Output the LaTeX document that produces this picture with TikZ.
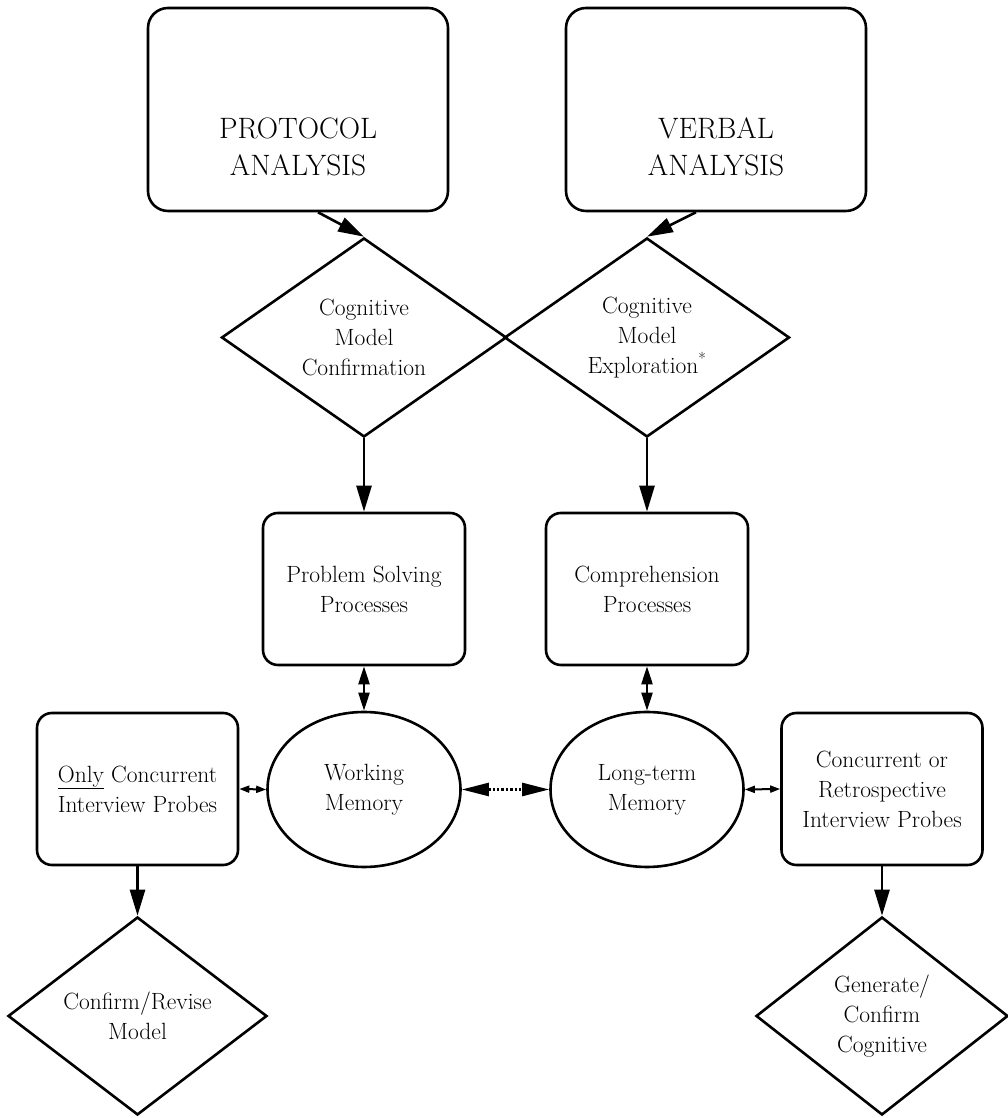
\documentclass[tikz,border=0pt]{standalone}
\usepackage{fontspec}
\usetikzlibrary{arrows.meta,shapes.geometric}
\newcommand{\flowfont}{\fontsize{23.5}{30}\selectfont}
\tikzset{
  bigbox/.style={draw, line width=2.6pt, rounded corners=20pt,
                 minimum width=300pt, minimum height=203pt},
  bigtxt/.style={font=\fontsize{29.5}{37}\selectfont, align=center},
  procbox/.style={draw, line width=2.6pt, rounded corners=15pt, inner sep=0pt,
                  minimum width=202pt, minimum height=152pt, font=\flowfont, align=center},
  dec/.style={diamond, draw, line width=2.6pt, aspect=1.43, inner sep=0pt,
              minimum width=285pt, minimum height=199pt, font=\flowfont, align=center},
  mem/.style={ellipse, draw, line width=2.6pt, inner sep=0pt,
              minimum width=193pt, minimum height=155pt, font=\flowfont, align=center},
  arr/.style={-{Triangle[length=26pt,width=15pt]}, line width=2.6pt},
  dblarr/.style={{Triangle[length=18pt,width=11pt]}-{Triangle[length=18pt,width=11pt]}, line width=2.2pt},
  sdblarr/.style={{Triangle[length=10pt,width=7pt]}-{Triangle[length=10pt,width=7pt]}, line width=2pt},
  dotarr/.style={{Triangle[length=27pt,width=13pt]}-{Triangle[length=27pt,width=13pt]}, line width=2.4pt, dotted},
}
\begin{document}
\begin{tikzpicture}[x=1pt,y=1pt]
  \useasboundingbox (0,0) rectangle (1008,1118);
  % analysis boxes
  \node[bigbox] (protocol) at (298,1008.5) {};
  \node[bigtxt] (protocoltxt) at ([yshift=-37pt]protocol.center) {PROTOCOL\\ANALYSIS};
  \node[bigbox] (verbal) at (716,1008.5) {};
  \node[bigtxt] (verbaltxt) at ([yshift=-37pt]verbal.center) {VERBAL\\ANALYSIS};
  % model diamonds
  \node[dec] (confirm) at (364,780.5) {Cognitive\\Model\\Confirmation};
  \node[dec] (explore) at (647,780.5) {Cognitive\\Model\\Exploration\textsuperscript{*}};
  % processes
  \node[procbox] (psolve) at (364,529) {Problem Solving\\Processes};
  \node[procbox] (compr) at (647,529) {Comprehension\\Processes};
  % memory
  \node[mem] (wm) at (364,328.5) {Working\\Memory};
  \node[mem] (ltm) at (647,328.5) {Long-term\\Memory};
  \node[procbox, minimum width=201pt] (only) at (137.5,329) {\underline{Only} Concurrent\\Interview Probes};
  \node[procbox, minimum width=201pt] (retro) at (882,329) {Concurrent or\\Retrospective\\Interview Probes};
  % outcome diamonds
  \node[dec, aspect=1.3, minimum width=259pt, minimum height=198pt] (revise) at (137.5,102) {Confirm/Revise\\Model};
  \node[dec, aspect=1.3, minimum width=252pt, minimum height=198pt] (generate) at (882,102) {Generate/\\Confirm\\Cognitive};

  \draw[arr] ([xshift=20pt]protocol.south) -- (confirm.north);
  \draw[arr] ([xshift=-20pt]verbal.south) -- (explore.north);
  \draw[arr] (confirm.south) -- (psolve.north);
  \draw[arr] (explore.south) -- (compr.north);
  \draw[dblarr] (psolve.south) -- (wm.north);
  \draw[dblarr] (compr.south) -- (ltm.north);
  \draw[sdblarr] (only.east) -- (wm.west);
  \draw[sdblarr] (ltm.east) -- (retro.west);
  \draw[dotarr] (wm.east) -- (ltm.west);
  \draw[arr] (only.south) -- (revise.north);
  \draw[arr] (retro.south) -- (generate.north);
\end{tikzpicture}
\end{document}
